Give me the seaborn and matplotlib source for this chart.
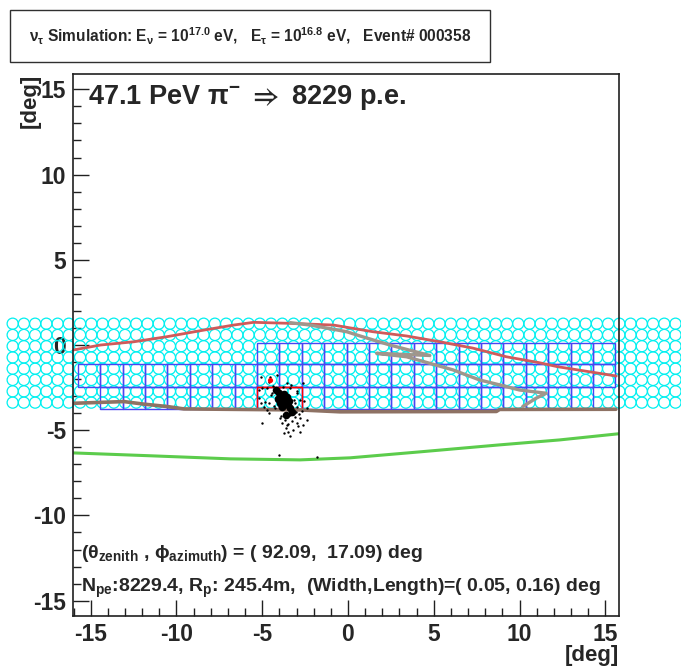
import numpy as np
import pandas as pd
import matplotlib
matplotlib.use("Agg")
import matplotlib.pyplot as plt
from matplotlib.patches import Rectangle
from matplotlib.ticker import MultipleLocator
import seaborn as sns

# --- track / horizon outlines (deg) ---
red_x = [-16.0, -14.42, -12.48, -10.54, -8.6, -6.67, -5.5, -3.37, -0.85, 1.45, 3.41, 5.35, 7.27, 9.23, 11.16, 12.2, 15.64]
red_y = [-0.29, 0.0, 0.19, 0.49, 0.84, 1.17, 1.33, 1.27, 1.17, 0.78, 0.53, 0.19, -0.18, -0.69, -1.04, -1.27, -1.82]

gray_x = [-3.37, -2.21, -0.08, 0.70, 2.44, 4.77, 1.67, 3.41, 4.77, 6.12, 7.67, 8.84, 10.0, 11.55, 10.97, 10.19]
gray_y = [1.31, 1.17, 0.78, 0.53, 0.0, -0.25, -0.49, -0.69, -0.98, -1.46, -2.05, -2.34, -2.64, -2.83, -3.12, -3.61]

brown_x = [-16.0, -13.06, -11.9, -10.54, -9.57, -2.79, -0.47, 8.65, 8.84, 15.62]
brown_y = [-3.42, -3.32, -3.47, -3.61, -3.75, -3.81, -3.92, -3.90, -3.78, -3.77]

green_x = [-16.05, -11.51, -6.86, -2.79, 0.12, 4.19, 8.84, 12.33, 15.76]
green_y = [-6.33, -6.5, -6.68, -6.74, -6.62, -6.27, -5.86, -5.57, -5.21]

# --- photo-electron hits (deg) ---
pe_x = [-4.53, -4.15, -5.02, -5.21, -4.83, -4.44, -3.57, -3.37, -2.98, -2.79, -3.08, -4.73, -4.63,
        -5.02, -3.95, -3.66, -3.37, -3.08, -2.79, -2.98, -2.89, -2.60, -2.40, -3.57, -3.47, -3.18,
        -2.79, -3.76, -4.05, -1.82, -5.10, -2.60, -5.21, -5.10, -4.92, -4.25, -2.40, -4.63,
        -4.35, -4.20, -3.05, -2.95, -3.25, -4.48, -3.85, -3.15, -2.70, -3.60, -3.30, -4.60,
        -4.10, -3.80, -4.30, -2.85, -3.50, -3.00, -4.70, -2.55, -3.90, -3.40]
pe_y = [-1.86, -1.76, -2.54, -3.12, -3.32, -2.83, -2.25, -2.54, -2.83, -3.22, -3.42, -3.81, -4.00,
        -4.59, -4.30, -4.39, -4.10, -4.20, -4.30, -4.59, -4.78, -4.69, -4.39, -4.69, -5.08, -4.98,
        -5.08, -5.17, -6.44, -6.58, -1.86, -2.25, -2.64, -3.42, -3.61, -3.71, -3.71, -3.42,
        -2.40, -3.05, -3.95, -3.65, -4.45, -2.95, -4.55, -3.20, -3.85, -4.85, -2.35, -2.15,
        -2.60, -2.45, -3.55, -4.05, -4.65, -2.70, -2.55, -3.30, -4.15, -5.35]

core_x = [-4.22, -4.05, -3.92, -3.78, -3.65, -3.52, -3.40, -3.28, -4.10, -3.95, -3.55, -3.75, -3.45, -3.85, -3.62]
core_y = [-2.62, -2.80, -2.98, -3.16, -3.34, -3.52, -3.72, -3.95, -3.15, -3.40, -3.05, -2.85, -3.30, -3.62, -4.10]

hot_x = [-4.53]
hot_y = [-2.05]

# --- camera pixel rows, trigger cells ---
pix_rows = [1.25, 0.59, -0.07, -0.73, -1.39, -2.05, -2.72, -3.38]
cell_rows = [(-1.13, 0.13), (-2.44, -1.13), (-3.75, -2.44)]
cell_cols = [(8, 24), (0, 24), (1, 23)]
hit_cells = [(8, 2), (9, 2)]

sns.set_style("ticks")
plt.rcParams['font.family'] = ['Liberation Sans', 'DejaVu Sans']
plt.rcParams['font.weight'] = 'bold'
plt.rcParams['axes.unicode_minus'] = False
plt.rcParams['mathtext.fontset'] = 'custom'
plt.rcParams['mathtext.rm'] = 'Liberation Sans:bold'
plt.rcParams['mathtext.it'] = 'Liberation Sans:bold'
plt.rcParams['mathtext.bf'] = 'Liberation Sans:bold'
plt.rcParams['mathtext.fallback'] = 'stixsans'

fig = plt.figure(figsize=(6.81, 6.72), dpi=100)
ax = fig.add_axes([72.7 / 681, 1 - 616 / 672, (619 - 72.7) / 681, (616 - 74) / 672])

# camera pixels (drawn beyond the frame as in the original)
cols = -19.55 + 0.655 * np.arange(60)
gx, gy = np.meshgrid(cols, pix_rows)
sns.scatterplot(x=gx.ravel(), y=gy.ravel(), ax=ax, marker='o', s=64, legend=False)
pix = ax.collections[-1]
pix.set_facecolor('none')
pix.set_edgecolor('#00f0f0')
pix.set_linewidth(0.9)
pix.set_clip_on(False)
pix.set_zorder(1)

# trigger cells
x0, w = -15.75, 1.306
for (ylo, yhi), (c0, c1) in zip(cell_rows, cell_cols):
    for j in range(c0, c1):
        ax.add_patch(Rectangle((x0 + j * w, ylo), w, yhi - ylo, fill=False,
                               ec='#4a44f2', lw=1.0, zorder=2))
for j, r in hit_cells:
    ylo, yhi = cell_rows[r]
    ax.add_patch(Rectangle((x0 + j * w, ylo), w, yhi - ylo, fill=False,
                           ec='red', lw=1.0, zorder=2.2))
ax.plot([x0 + 8 * w, x0 + 10 * w], [-2.44, -2.44], color='red', lw=1.0, zorder=2.3)

sns.lineplot(x=green_x, y=green_y, sort=False, color='#5ccc4c', lw=2.2, ax=ax, zorder=3)
sns.lineplot(x=brown_x, y=brown_y, sort=False, color='#8e7264', lw=2.6, ax=ax, zorder=3)
sns.lineplot(x=red_x, y=red_y, sort=False, color='#d05a5a', lw=2.0, ax=ax, zorder=3)
sns.lineplot(x=gray_x, y=gray_y, sort=False, color='#a0968c', lw=2.4, ax=ax, zorder=3.1)

sns.scatterplot(x=pe_x, y=pe_y, color='black', s=3, linewidth=0, ax=ax, zorder=4, legend=False)
sns.scatterplot(x=core_x, y=core_y, color='black', s=30, linewidth=0, ax=ax, zorder=4, legend=False)
sns.scatterplot(x=hot_x, y=hot_y, color='red', s=14, linewidth=0, ax=ax, zorder=4, legend=False)

ax.set_xlim(-16.05, 15.8)
ax.set_ylim(-15.9, 15.9)
ax.xaxis.set_major_locator(MultipleLocator(5))
ax.xaxis.set_minor_locator(MultipleLocator(1))
ax.yaxis.set_major_locator(MultipleLocator(5))
ax.yaxis.set_minor_locator(MultipleLocator(1))
ax.tick_params(which='both', direction='in', top=False, right=False, labelsize=16.5, width=1, color='#202020')
ax.tick_params(which='major', length=11.5, pad=5)
ax.tick_params(which='minor', length=5.8)
for lab in ax.get_xticklabels() + ax.get_yticklabels():
    lab.set_fontweight('bold')
for sp in ax.spines.values():
    sp.set_linewidth(1.2)
    sp.set_color('#202020')
    sp.set_zorder(5)

fig.text(619 / 681, 1 - 655 / 672, '[deg]', ha='right', va='center', fontsize=16, fontweight='bold')
fig.text(30 / 681, 1 - 74 / 672, '[deg]', ha='center', va='top', rotation=90, fontsize=16, fontweight='bold')

ax.text(88 / 681, 1 - 97 / 672, r'47.1 PeV π$^{-}$ $\Rightarrow$ 8229 p.e.', transform=fig.transFigure,
        ha='left', va='center', fontsize=19.5, fontweight='bold')
ax.text(81 / 681, 1 - 553 / 672, r'($\theta_{zenith}$ , $\phi_{azimuth}$) = ( 92.09,  17.09) deg',
        transform=fig.transFigure, ha='left', va='center', fontsize=14, fontweight='bold')
ax.text(81 / 681, 1 - 588 / 672, r'N$_{pe}$:8229.4, R$_{p}$: 245.4m,  (Width,Length)=( 0.05, 0.16) deg',
        transform=fig.transFigure, ha='left', va='center', fontsize=14, fontweight='bold')

fig.patches.append(Rectangle((10 / 681, 1 - 62 / 672), 480 / 681, 52 / 672, transform=fig.transFigure,
                             fill=False, ec='#303030', lw=1.0))
fig.text(250 / 681, 1 - 36 / 672,
         r'$\nu_{\tau}$ Simulation: E$_{\nu}$ = 10$^{17.0}$ eV,   E$_{\tau}$ = 10$^{16.8}$ eV,   Event# 000358',
         ha='center', va='center', fontsize=11.2, fontweight='bold')

fig.savefig('out.png', dpi=100)
